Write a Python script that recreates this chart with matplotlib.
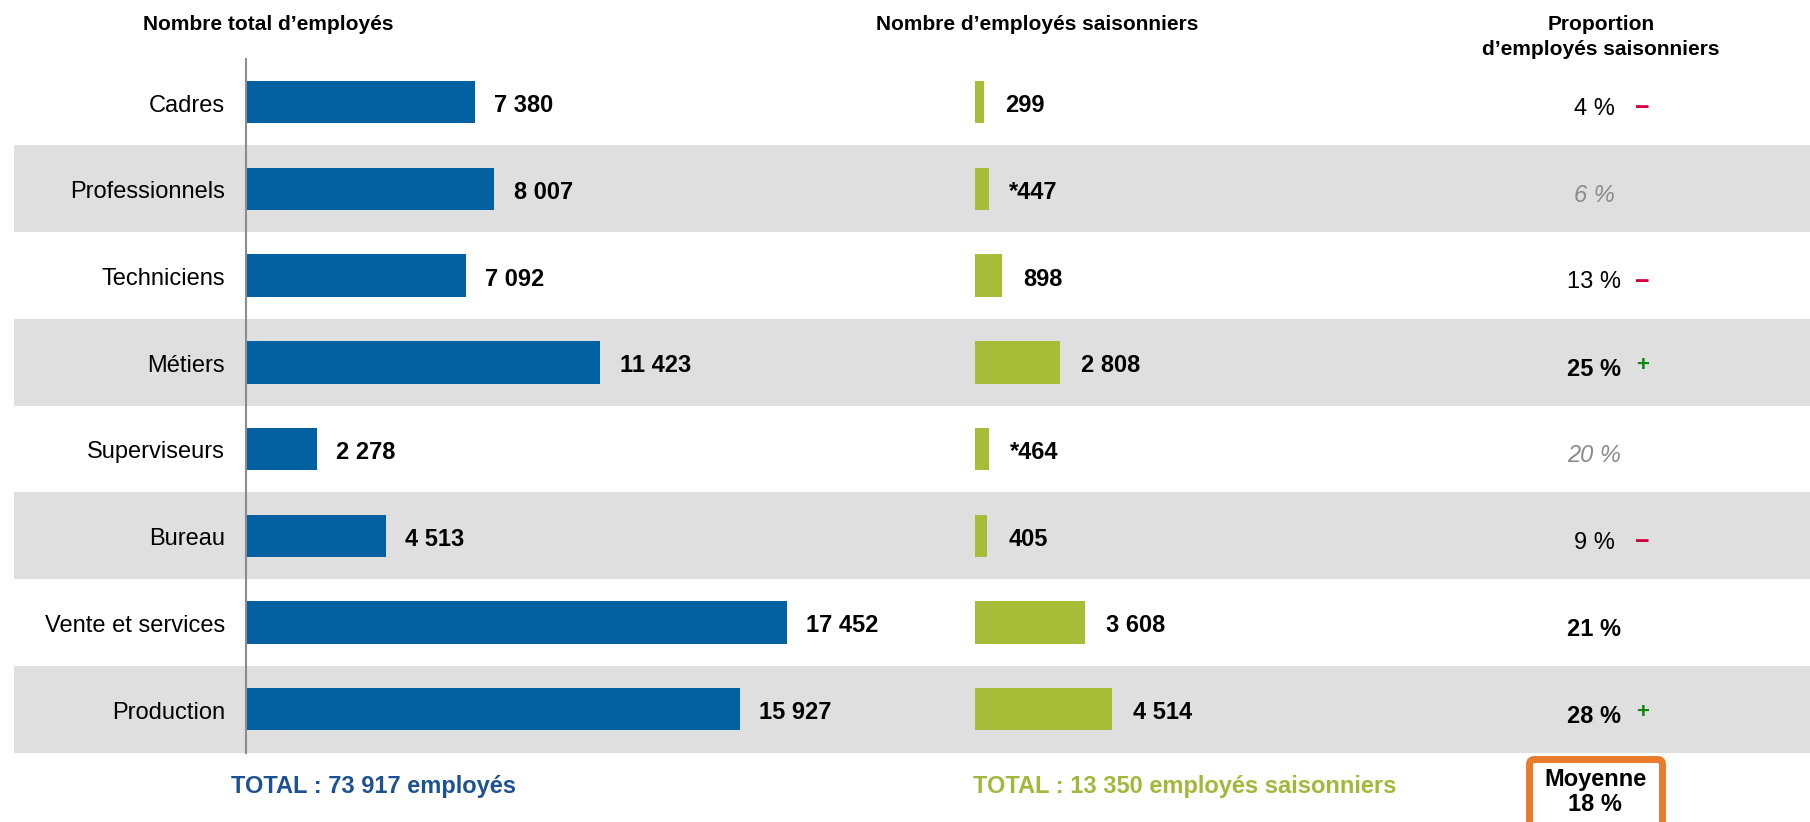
import numpy as np
import matplotlib
matplotlib.use('Agg')
from matplotlib import pyplot as plt
from matplotlib.patches import FancyBboxPatch

plt.rcParams['font.family'] = ['Liberation Sans', 'DejaVu Sans']

categories = ['Cadres', 'Professionnels', 'Techniciens', 'Métiers',
              'Superviseurs', 'Bureau', 'Vente et services', 'Production']
total_employes = [7380, 8007, 7092, 11423, 2278, 4513, 17452, 15927]
saisonniers = [299, 447, 898, 2808, 464, 405, 3608, 4514]
saisonniers_note = ['', '*', '', '', '*', '', '', '']
proportion = [4, 6, 13, 25, 20, 9, 21, 28]
proportion_style = ['normal', 'faded', 'normal', 'bold', 'faded', 'normal', 'bold', 'bold']
signe = ['−', '', '−', '+', '', '−', '', '+']
total_all = 73917
total_saison = 13350
moyenne = 18

BLUE = '#0461a1'
GREEN = '#a8bd37'
BAND = '#dfdfdf'

W, H = 1810, 822
ROW_TOP, ROW_BOTTOM = 58.7, 752.6


def fmt(v):
    return f'{v:,}'.replace(',', ' ')


fig = plt.figure(figsize=(W / 100, H / 100), dpi=100)


def px_axes(x0, x1, y0=ROW_TOP, y1=ROW_BOTTOM):
    ax = fig.add_axes([x0 / W, 1 - y1 / H, (x1 - x0) / W, (y1 - y0) / H])
    ax.set_facecolor('none')
    ax.set_ylim(len(categories) - 0.5, -0.5)
    return ax


rows = np.arange(len(categories))

# alternating grey bands
bg = px_axes(14, W)
bg.set_xlim(0, 1)
for i in rows[1::2]:
    bg.axhspan(i - 0.5, i + 0.5, color=BAND, lw=0)
bg.axis('off')

# total employees
ax1 = px_axes(246, 246 + 20000 * 0.031)
ax1.barh(rows, total_employes, height=0.49, color=BLUE)
ax1.set_xlim(0, 20000)
ax1.set_ylim(len(categories) - 0.5, -0.5)
for i, v in enumerate(total_employes):
    ax1.annotate(fmt(v), (v, i), xytext=(14, -2.5), textcoords='offset points',
                 fontsize=17, fontweight='bold', ha='left', va='center')
    ax1.annotate(categories[i], (0, i), xytext=(-15, -2.5), textcoords='offset points',
                 fontsize=17, ha='right', va='center')
ax1.set_yticks([])
ax1.set_xticks([])
for s in ['top', 'right', 'bottom']:
    ax1.spines[s].set_visible(False)
ax1.spines['left'].set_color('#8c8c8c')
ax1.spines['left'].set_linewidth(1.5)

# seasonal employees
ax2 = px_axes(975, 975 + 10000 * 0.0304)
ax2.barh(rows, saisonniers, height=0.49, color=GREEN)
ax2.set_xlim(0, 10000)
ax2.set_ylim(len(categories) - 0.5, -0.5)
for i, (n, v) in enumerate(zip(saisonniers_note, saisonniers)):
    ax2.annotate(n + fmt(v), (v, i), xytext=(15, -2.5), textcoords='offset points',
                 fontsize=17, fontweight='bold', ha='left', va='center')
ax2.axis('off')

# proportion column
ax3 = px_axes(1500, 1700)
ax3.set_xlim(1500, 1700)
ax3.set_ylim(len(categories) - 0.5, -0.5)
ax3.axis('off')
for i, (p, st, sg) in enumerate(zip(proportion, proportion_style, signe)):
    kw = dict(fontsize=17, ha='center', va='center')
    if st == 'bold':
        kw['fontweight'] = 'bold'
    elif st == 'faded':
        kw.update(color='#8a8a8a', style='italic')
    ax3.text(1594, i + 0.08, f'{p} %', **kw)
    if sg == '−':
        ax3.text(1642, i + 0.07, sg, color='#d1003f', fontsize=18,
                 fontweight='bold', ha='center', va='center')
    elif sg == '+':
        ax3.text(1643, i + 0.035, sg, color='#0a8a0a', fontsize=16,
                 fontweight='bold', ha='center', va='center')

# overlay for headers, totals and average box
ov = fig.add_axes([0, 0, 1, 1])
ov.set_xlim(0, W)
ov.set_ylim(H, 0)
ov.axis('off')
ov.set_facecolor('none')

ov.text(268, 24, 'Nombre total d’employés', fontsize=15, fontweight='bold',
        ha='center', va='center')
ov.text(1037, 24, 'Nombre d’employés saisonniers', fontsize=15, fontweight='bold',
        ha='center', va='center')
ov.text(1601, 37, 'Proportion\nd’employés saisonniers', fontsize=15,
        fontweight='bold', ha='center', va='center', linespacing=1.35)

ov.text(231, 786, f'TOTAL : {fmt(total_all)} employés', fontsize=17,
        fontweight='bold', color='#1c5294', ha='left', va='center')
ov.text(973, 786, f'TOTAL : {fmt(total_saison)} employés saisonniers', fontsize=17,
        fontweight='bold', color='#a3b83a', ha='left', va='center')

box = FancyBboxPatch((1529.5, 759.5), 133, 90,
                     boxstyle='round,pad=0,rounding_size=5',
                     lw=5, ec='#e87b2c', fc='white', clip_on=False)
ov.add_patch(box)
ov.text(1595, 792, f'Moyenne\n{moyenne} %', fontsize=17, fontweight='bold',
        ha='center', va='center', linespacing=1.1)

fig.savefig('out.png', dpi=100)
